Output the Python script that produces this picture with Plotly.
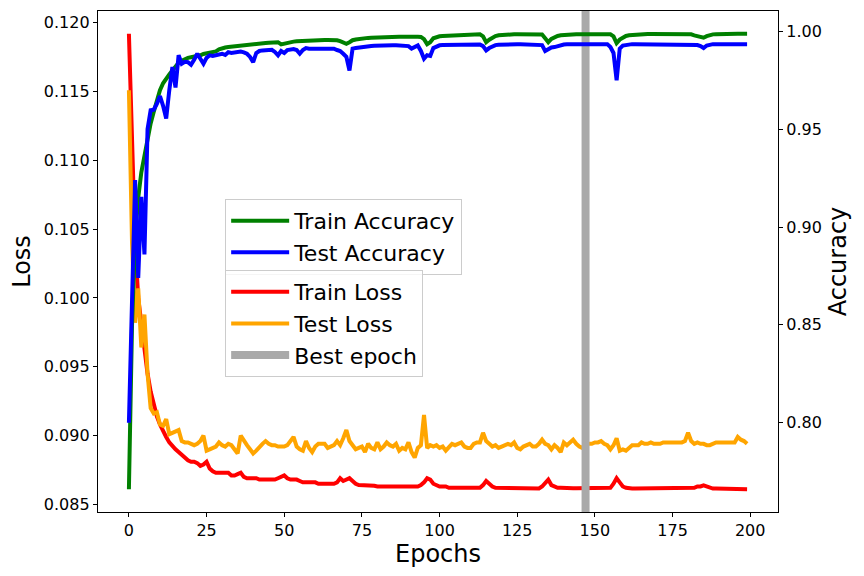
import plotly.graph_objects as go

epochs = list(range(200))
best_epoch = 147

train_acc = [
    0.766, 0.850, 0.895, 0.915, 0.928, 0.937, 0.946, 0.953, 0.959, 0.965,
    0.970, 0.9735, 0.976, 0.978, 0.980, 0.982, 0.984, 0.985, 0.9858, 0.9865,
    0.9868, 0.9870, 0.9872, 0.9878, 0.9885, 0.9888, 0.9892, 0.9895, 0.9898, 0.9908,
    0.9915, 0.9918, 0.9920, 0.9922, 0.9925, 0.9927, 0.9930, 0.9931, 0.9933, 0.9935,
    0.9937, 0.9938, 0.9939, 0.9940, 0.9941, 0.9942, 0.9943, 0.9945, 0.9945, 0.9934,
    0.9938, 0.9944, 0.9946, 0.9948, 0.9950, 0.9951, 0.9953, 0.9953, 0.9954, 0.9954,
    0.9955, 0.9955, 0.9956, 0.9956, 0.9956, 0.9956, 0.9956, 0.9955, 0.9950, 0.9942,
    0.9937, 0.9945, 0.9955, 0.9959, 0.9962, 0.9964, 0.9966, 0.9967, 0.9968, 0.9969,
    0.9970, 0.9971, 0.9971, 0.9972, 0.9972, 0.9972, 0.9973, 0.9973, 0.9973, 0.9974,
    0.9974, 0.9974, 0.9974, 0.9973, 0.9972, 0.9960, 0.9935, 0.9945, 0.9965, 0.9972,
    0.9975, 0.9977, 0.9978, 0.9979, 0.9980, 0.9981, 0.9982, 0.9982, 0.9983, 0.9983,
    0.9984, 0.9984, 0.9985, 0.9985, 0.9975, 0.9945, 0.9958, 0.9970, 0.9976, 0.9980,
    0.9982, 0.9983, 0.9984, 0.9984, 0.9985, 0.9985, 0.9985, 0.9985, 0.9986, 0.9986,
    0.9986, 0.9986, 0.9986, 0.9984, 0.9965, 0.9945, 0.9962, 0.9972, 0.9977, 0.9980,
    0.9982, 0.9984, 0.9985, 0.9986, 0.9986, 0.9986, 0.9986, 0.9986, 0.9986, 0.9986,
    0.9986, 0.9986, 0.9986, 0.9986, 0.9986, 0.9985, 0.9975, 0.9940, 0.9958, 0.9970,
    0.9977, 0.9980, 0.9982, 0.9984, 0.9985, 0.9986, 0.9987, 0.9987, 0.9987, 0.9987,
    0.9987, 0.9987, 0.9988, 0.9988, 0.9988, 0.9988, 0.9988, 0.9988, 0.9988, 0.9988,
    0.9988, 0.9985, 0.9980, 0.9975, 0.9970, 0.9968, 0.9976, 0.9982, 0.9985, 0.9986,
    0.9987, 0.9987, 0.9987, 0.9987, 0.9988, 0.9988, 0.9988, 0.9988, 0.9988, 0.9988,
]

test_acc = [
    0.800, 0.860, 0.924, 0.874, 0.9155, 0.886, 0.950, 0.9597, 0.9600, 0.9630,
    0.9670, 0.9620, 0.9555, 0.9700, 0.9818, 0.9713, 0.9878, 0.9835, 0.9845, 0.9843,
    0.9830, 0.9855, 0.9886, 0.9860, 0.9835, 0.9865, 0.9878, 0.9875, 0.9878, 0.9882,
    0.9886, 0.9880, 0.9894, 0.9890, 0.9892, 0.9897, 0.9897, 0.9893, 0.9886, 0.9870,
    0.9843, 0.9890, 0.9900, 0.9903, 0.9905, 0.9905, 0.9906, 0.9895, 0.9878, 0.9900,
    0.9890, 0.9905, 0.9910, 0.9910, 0.9905, 0.9886, 0.9905, 0.9915, 0.9912, 0.9912,
    0.9913, 0.9914, 0.9914, 0.9914, 0.9915, 0.9915, 0.9912, 0.9905, 0.9900, 0.9886,
    0.9870, 0.9800, 0.9912, 0.9915, 0.9918, 0.9920, 0.9922, 0.9924, 0.9926, 0.9927,
    0.9928, 0.9929, 0.9929, 0.9928, 0.9929, 0.9929, 0.9929, 0.9928, 0.9929, 0.9929,
    0.9925, 0.9912, 0.9920, 0.9928, 0.9900, 0.9860, 0.9878, 0.9875, 0.9915, 0.9925,
    0.9929, 0.9930, 0.9930, 0.9931, 0.9931, 0.9932, 0.9932, 0.9932, 0.9932, 0.9933,
    0.9933, 0.9933, 0.9933, 0.9933, 0.9925, 0.9903, 0.9915, 0.9925, 0.9930, 0.9932,
    0.9933, 0.9933, 0.9933, 0.9934, 0.9934, 0.9934, 0.9934, 0.9934, 0.9934, 0.9934,
    0.9934, 0.9934, 0.9934, 0.9930, 0.9900, 0.9910, 0.9918, 0.9920, 0.9926, 0.9930,
    0.9933, 0.9934, 0.9935, 0.9935, 0.9935, 0.9935, 0.9935, 0.9935, 0.9935, 0.9935,
    0.9935, 0.9935, 0.9935, 0.9935, 0.9935, 0.9920, 0.9890, 0.9750, 0.9912, 0.9928,
    0.9932, 0.9934, 0.9935, 0.9935, 0.9935, 0.9935, 0.9935, 0.9935, 0.9935, 0.9935,
    0.9935, 0.9935, 0.9935, 0.9935, 0.9935, 0.9935, 0.9935, 0.9935, 0.9935, 0.9935,
    0.9935, 0.9933, 0.9932, 0.9930, 0.9925, 0.9915, 0.9928, 0.9933, 0.9935, 0.9935,
    0.9935, 0.9935, 0.9935, 0.9935, 0.9935, 0.9935, 0.9935, 0.9935, 0.9935, 0.9935,
]

train_loss = [
    0.1192, 0.1110, 0.1040, 0.1000, 0.0980, 0.0963, 0.0945, 0.0932, 0.0922, 0.0914,
    0.0908, 0.0903, 0.0899, 0.0895, 0.0892, 0.0890, 0.0888, 0.0886, 0.0884, 0.0882,
    0.0881, 0.0881, 0.0880, 0.0878, 0.0879, 0.0881, 0.0876, 0.0874, 0.0873, 0.0873,
    0.0873, 0.0873, 0.0873, 0.0871, 0.0871, 0.0872, 0.0873, 0.0870, 0.0869, 0.0869,
    0.0869, 0.0869, 0.0868, 0.0868, 0.0868, 0.0868, 0.0868, 0.0868, 0.0869, 0.0870,
    0.0871, 0.0869, 0.0868, 0.0868, 0.0868, 0.0867, 0.0866, 0.0866, 0.0866, 0.0866,
    0.0866, 0.0865, 0.0865, 0.0865, 0.0865, 0.0865, 0.0865, 0.0866, 0.0869, 0.0867,
    0.0868, 0.0869, 0.0867, 0.0865, 0.0864, 0.0864, 0.0864, 0.08635, 0.08635, 0.08635,
    0.0863, 0.0863, 0.0863, 0.0863, 0.0863, 0.0863, 0.0863, 0.0863, 0.0863, 0.0863,
    0.0863, 0.0863, 0.0863, 0.0863, 0.0864, 0.0866, 0.0869, 0.0868, 0.0865, 0.0864,
    0.0863, 0.0863, 0.0863, 0.0862, 0.0862, 0.0862, 0.0862, 0.0862, 0.0862, 0.0862,
    0.0862, 0.0862, 0.0862, 0.0862, 0.0864, 0.0867, 0.0865, 0.0863, 0.0862, 0.0862,
    0.0862, 0.0862, 0.0862, 0.0862, 0.0862, 0.08618, 0.08618, 0.08615, 0.08615, 0.08615,
    0.08615, 0.08615, 0.08615, 0.0863, 0.0866, 0.0868, 0.0864, 0.0863, 0.0862, 0.0862,
    0.08618, 0.08618, 0.08618, 0.08618, 0.08618, 0.08618, 0.08618, 0.08618, 0.08618, 0.08618,
    0.08618, 0.08618, 0.08618, 0.08618, 0.08618, 0.0862, 0.0865, 0.0869, 0.0866, 0.0863,
    0.0862, 0.08615, 0.08615, 0.08615, 0.08615, 0.08615, 0.08615, 0.08615, 0.08615, 0.08615,
    0.08615, 0.08615, 0.08615, 0.08615, 0.08615, 0.08615, 0.08615, 0.08615, 0.08615, 0.08615,
    0.08615, 0.0862, 0.0862, 0.0863, 0.0863, 0.08638, 0.0863, 0.0862, 0.08615, 0.08615,
    0.08615, 0.08615, 0.08615, 0.08615, 0.08615, 0.08615, 0.08615, 0.08615, 0.08615, 0.0861,
]

test_loss = [
    0.1151, 0.1040, 0.0982, 0.1007, 0.0964, 0.0988, 0.0945, 0.0920, 0.0916, 0.0917,
    0.0908, 0.0907, 0.0912, 0.0901, 0.0902, 0.0903, 0.0904, 0.0896, 0.0895, 0.0895,
    0.0894, 0.0893, 0.0894, 0.0896, 0.0900, 0.0889, 0.0890, 0.0891, 0.0892, 0.0895,
    0.0893, 0.0892, 0.0894, 0.0893, 0.0890, 0.0887, 0.0900, 0.0896, 0.0893, 0.0890,
    0.0887, 0.0889, 0.0892, 0.0894, 0.0896, 0.0894, 0.0893, 0.0893, 0.0892, 0.0892,
    0.0892, 0.0893, 0.0896, 0.0899, 0.0892, 0.0890, 0.0889, 0.0896, 0.0891, 0.0888,
    0.0892, 0.0894, 0.0894, 0.0894, 0.0891, 0.0892, 0.0893, 0.0896, 0.0893, 0.0898,
    0.0904, 0.0896, 0.0893, 0.0890, 0.0891, 0.0892, 0.0888, 0.0894, 0.0891, 0.0890,
    0.0895, 0.0890, 0.0892, 0.0895, 0.0893, 0.0892, 0.0894, 0.0889, 0.0891, 0.0890,
    0.0895, 0.0888, 0.0884, 0.0891, 0.0893, 0.0915, 0.0891, 0.0893, 0.0892, 0.0893,
    0.0891, 0.0892, 0.0889, 0.0892, 0.0894, 0.0893, 0.0894, 0.0895, 0.0892, 0.0891,
    0.0891, 0.0894, 0.0895, 0.0895, 0.0902, 0.0896, 0.0894, 0.0892, 0.0893, 0.0891,
    0.0892, 0.0893, 0.0894, 0.0893, 0.0895, 0.0891, 0.0890, 0.0892, 0.0893, 0.0894,
    0.0892, 0.0892, 0.0894, 0.0897, 0.0894, 0.0893, 0.0890, 0.0893, 0.0891, 0.0888,
    0.0895, 0.0893, 0.0895, 0.0897, 0.0894, 0.0892, 0.0891, 0.0894, 0.0894, 0.0894,
    0.0895, 0.0895, 0.0896, 0.0894, 0.0893, 0.0890, 0.0893, 0.0898, 0.0889, 0.0890,
    0.0889, 0.0891, 0.0893, 0.0893, 0.0893, 0.0895, 0.0894, 0.0894, 0.0895, 0.0894,
    0.0894, 0.0894, 0.0895, 0.0895, 0.0895, 0.0895, 0.0895, 0.0895, 0.0895, 0.0896,
    0.0902, 0.0896, 0.0894, 0.0895, 0.0894, 0.0894, 0.0893, 0.0893, 0.0894, 0.0895,
    0.0895, 0.0895, 0.0895, 0.0895, 0.0895, 0.0895, 0.0899, 0.0897, 0.0896, 0.0894,
]

x_ticks = [0, 25, 50, 75, 100, 125, 150, 175, 200]
loss_ticks = [0.085, 0.090, 0.095, 0.100, 0.105, 0.110, 0.115, 0.120]
acc_ticks = [0.80, 0.85, 0.90, 0.95, 1.00]


def padded(lo, hi, frac=0.05):
    span = hi - lo
    return [lo - span * frac, hi + span * frac]


x_range = padded(min(epochs), max(epochs))
loss_range = padded(min(train_loss + test_loss), max(train_loss + test_loss))
acc_range = padded(min(train_acc + test_acc), max(train_acc + test_acc))

fig = go.Figure()
fig.add_trace(go.Scatter(x=epochs, y=train_loss, mode="lines", name="Train Loss",
                         line=dict(color="#ff0000", width=4), yaxis="y", legend="legend2"))
fig.add_trace(go.Scatter(x=epochs, y=test_loss, mode="lines", name="Test Loss",
                         line=dict(color="#ffa500", width=4), yaxis="y", legend="legend2"))
fig.add_trace(go.Scatter(x=[best_epoch, best_epoch], y=loss_range, mode="lines", name="Best epoch",
                         line=dict(color="#a9a9a9", width=8), yaxis="y", legend="legend2"))
fig.add_trace(go.Scatter(x=epochs, y=train_acc, mode="lines", name="Train Accuracy",
                         line=dict(color="#008000", width=4), yaxis="y2", legend="legend"))
fig.add_trace(go.Scatter(x=epochs, y=test_acc, mode="lines", name="Test Accuracy",
                         line=dict(color="#0000ff", width=4), yaxis="y2", legend="legend"))

axis_common = dict(showgrid=False, zeroline=False, showline=True, linecolor="black", linewidth=1.3,
                   ticks="outside", ticklen=4, tickwidth=1.3, tickcolor="black",
                   tickfont=dict(size=16, color="black"))

legend_common = dict(bgcolor="rgba(255,255,255,0.8)", bordercolor="#cccccc", borderwidth=1,
                     font=dict(size=22, color="black"), xanchor="left", yanchor="top",
                     tracegroupgap=0, itemwidth=58)

fig.update_layout(
    width=856, height=568,
    margin=dict(l=90, r=86, t=3, b=64, pad=0),
    paper_bgcolor="white", plot_bgcolor="white",
    font=dict(family="DejaVu Sans", color="black", size=16),
    xaxis=dict(range=x_range, tickvals=x_ticks, mirror=True,
               title=dict(text="Epochs", font=dict(size=24), standoff=2), **axis_common),
    yaxis=dict(range=loss_range, tickvals=loss_ticks, tickformat=".3f", mirror=True,
               title=dict(text="Loss", font=dict(size=24), standoff=8), **axis_common),
    yaxis2=dict(range=acc_range, tickvals=acc_ticks, tickformat=".2f", overlaying="y", side="right",
                title=dict(text="Accuracy", font=dict(size=24), standoff=8), **axis_common),
    legend=dict(x=0.187, y=0.625, **legend_common),
    legend2=dict(x=0.187, y=0.483, **legend_common),
    showlegend=True,
)

fig.write_html("out.html")
